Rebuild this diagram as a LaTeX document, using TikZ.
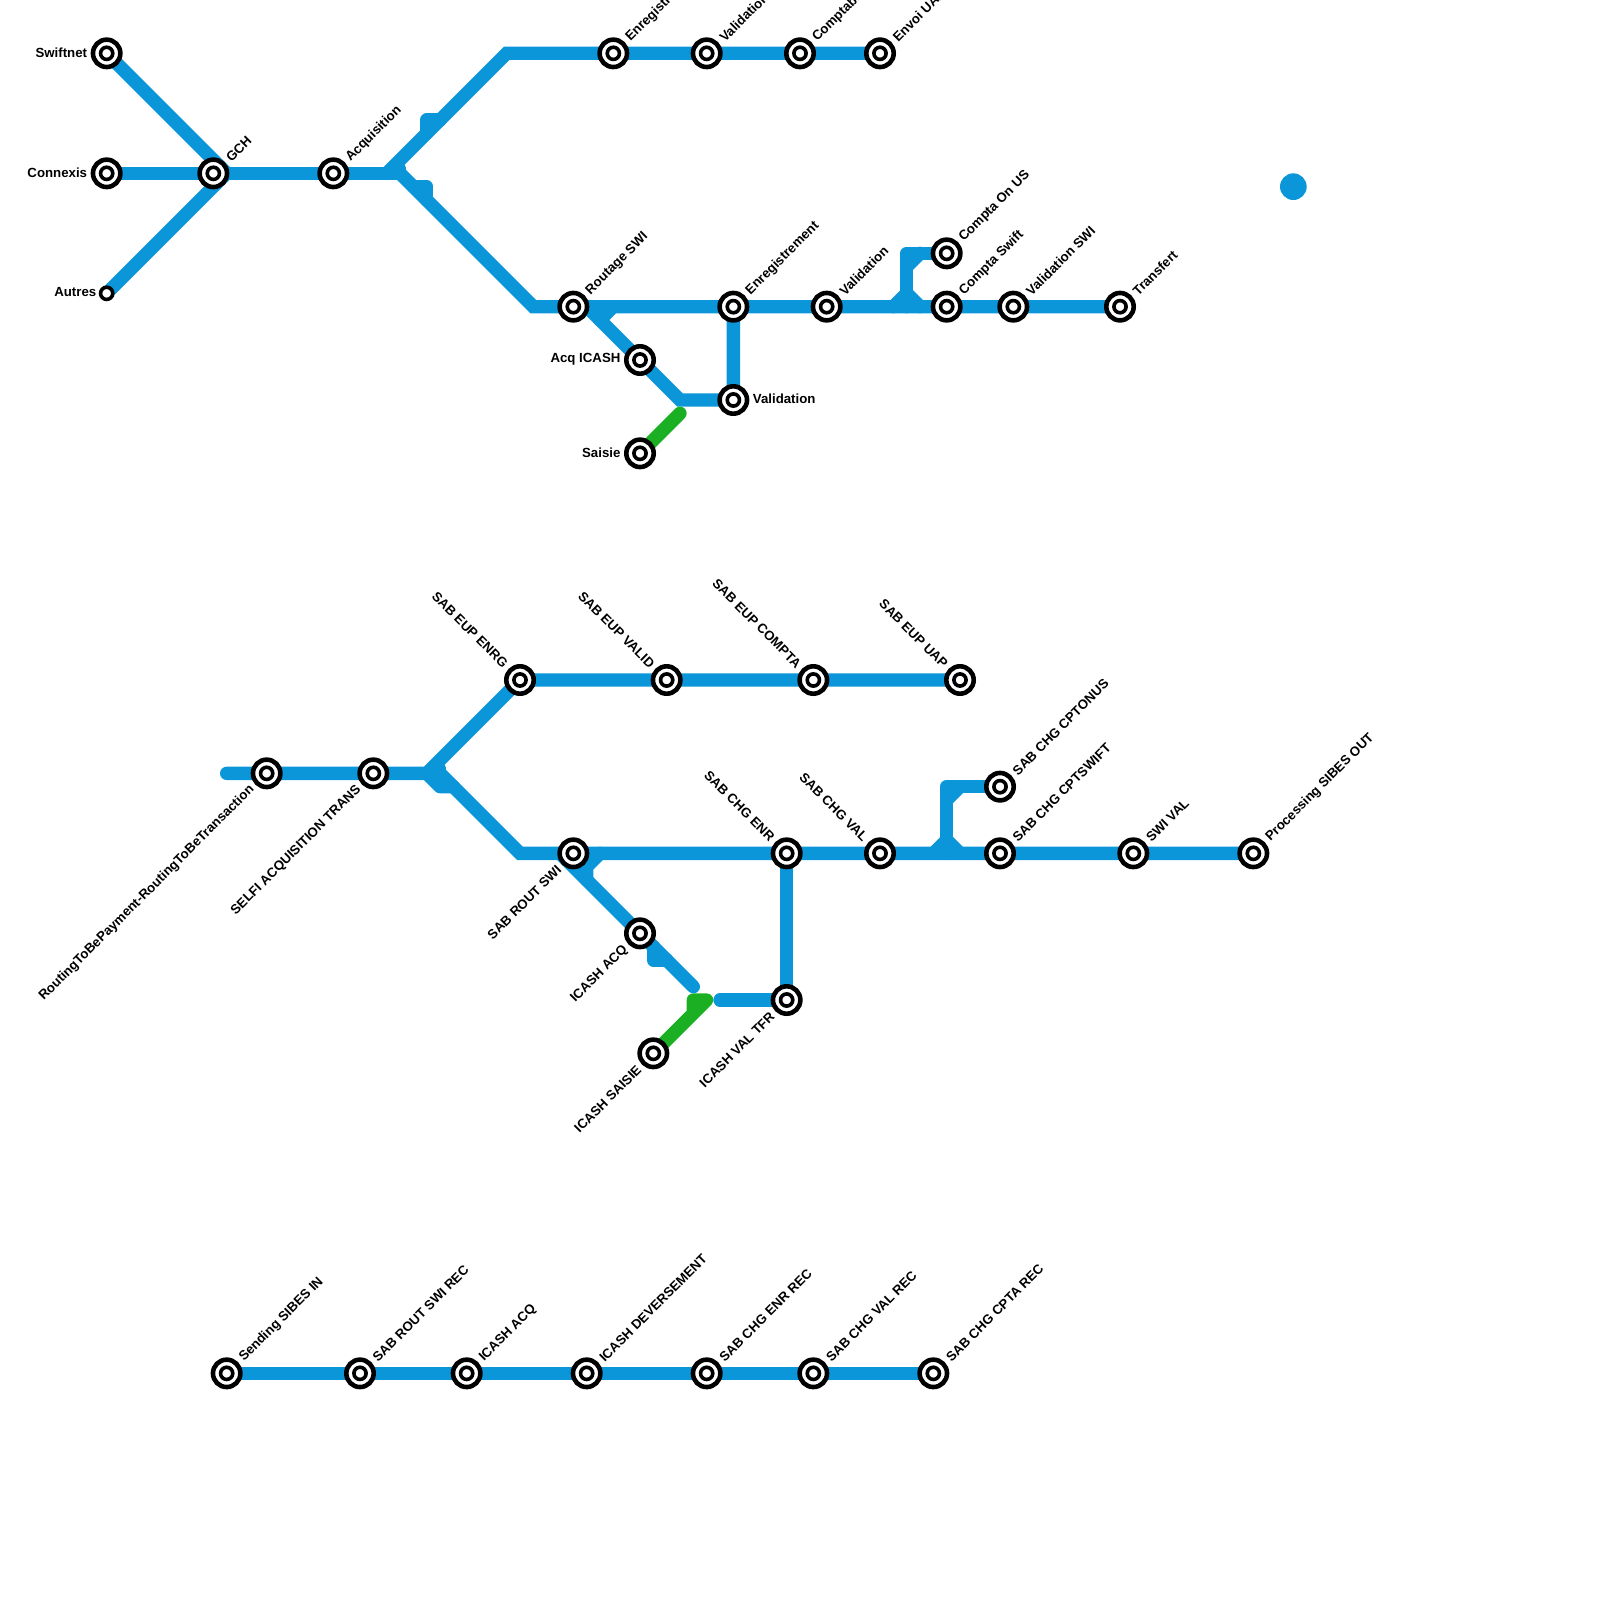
\documentclass[tikz,border=0pt]{standalone}
\usepackage{fontspec}
\setmainfont{Liberation Sans}
\definecolor{lineblue}{HTML}{0A96D9}
\definecolor{linegreen}{HTML}{1BB024}
\tikzset{
  base/.style={line width=6.667pt, line cap=round, miter limit=10},
  bl/.style={base, draw=lineblue},
  blr/.style={base, draw=lineblue, line join=round},
  blb/.style={base, draw=lineblue, line cap=round, line width=5pt},
  gr/.style={base, draw=linegreen, line join=round},
  stnmark/.style={circle, draw=black, fill=white, line width=2.3pt, minimum size=13.7pt, inner sep=0pt, outer sep=0pt},
  stnsmall/.style={circle, draw=black, fill=white, line width=1.8pt, minimum size=6.1pt, inner sep=0pt, outer sep=0pt},
  lbl/.style={font=\fontsize{6.62pt}{8pt}\selectfont\bfseries, inner sep=0pt, text=black},
  ur/.style={lbl, rotate=45, anchor=west, xshift=10pt, yshift=-0.4pt},
  ul/.style={lbl, rotate=-45, anchor=east, xshift=-10pt},
  dl/.style={lbl, rotate=45, anchor=east, xshift=-10pt},
  lf/.style={lbl, anchor=east, xshift=-9.6pt, yshift=0.5pt},
  rt/.style={lbl, anchor=west, xshift=9.6pt, yshift=0.5pt}
}
\begin{document}
\begin{tikzpicture}[x=6.667pt,y=-6.667pt]
\useasboundingbox (0,0) rectangle (120,120);
\clip (0,0) rectangle (120,120);
% group 1 lines
\coordinate (a1) at (29,13);
\coordinate (a2) at (38,4);
\coordinate (a3) at (30,13);
\coordinate (a4) at (40,23);
\coordinate (sw) at (8,4);
\coordinate (cx) at (8,13);
\coordinate (au) at (8,22);
\coordinate (gc) at (17,13);
\draw[bl] (sw) -- (gc);
\draw[bl] (au) -- (gc);
\draw[bl] (cx) -- (a3);
\draw[bl] (a1) -- (a2) -- (66,4);
\draw[bl] (a3) -- (a4) -- (84,23);
\draw[blb] (30.1,12.6) -- (30.1,13);
\draw[blr] (33,9) -- (32,9) -- (32,10);
\draw[blr] (31,14) -- (32,14) -- (32,15);
\draw[bl] (44,23) -- (48,27) -- (51,30) -- (55,30) -- (55,23);
\draw[bl] (46,23) -- (45,24);
\draw[gr] (48,34) -- (51,31);
\draw[blr] (71,19) -- (68,19) -- (68,23);
\draw[bl] (69,19) -- (68,20);
\draw[blr] (67,23) -- (68,22) -- (69,23);
\fill[lineblue] (97,14) circle (1);
% group 2 lines
\draw[bl] (17,58) -- (33,58) -- (39,64) -- (94,64);
\draw[bl] (32,58) -- (39,51) -- (72,51);
\draw[blb] (33.1,57.6) -- (33.1,58);
\draw[blr] (32,58) -- (33,59) -- (34,59);
\draw[bl] (42,64) -- (52,74);
\draw[blr] (45,64) -- (44,65) -- (44,66);
\draw[blr] (49,71) -- (49,72) -- (50,72);
\draw[gr] (49,79) -- (53,75) -- (52,75) -- (52,76);
\draw[blr] (54,75) -- (59,75) -- (59,64);
\draw[blr] (75,59) -- (71,59) -- (71,64);
\draw[bl] (72,59) -- (71,60);
\draw[blr] (70,64) -- (71,63) -- (72,64);
% group 3
\draw[bl] (17,103) -- (70,103);
% stations
\foreach \n/\x/\y in {s1/8/4,s2/8/13,s3/16/13,s4/25/13,s5/46/4,s6/53/4,s7/60/4,s8/66/4,
 s9/43/23,s10/55/23,s11/62/23,s12/71/23,s13/76/23,s14/84/23,s15/71/19,s16/48/27,s17/55/30,s18/48/34,
 t1/20/58,t2/28/58,t3/39/51,t4/50/51,t5/61/51,t6/72/51,t7/43/64,t8/59/64,t9/66/64,t10/75/64,t11/85/64,t12/94/64,
 t13/75/59,t14/48/70,t15/59/75,t16/49/79,
 u1/17/103,u2/27/103,u3/35/103,u4/44/103,u5/53/103,u6/61/103,u7/70/103}{
  \node[stnmark] (\n) at (\x,\y) {};
  \node[stnsmall] at (\x,\y) {};
}
\node[stnsmall] (s0) at (8,22) {};
% labels
\node[lf] at (s1) {Swiftnet};
\node[lf] at (s2) {Connexis};
\node[lbl, anchor=east, xshift=-5pt, yshift=0.5pt] at (s0) {Autres};
\node[ur] at (s3) {GCH};
\node[ur] at (s4) {Acquisition};
\node[ur] at (s5) {Enregistrement};
\node[ur] at (s6) {Validation};
\node[ur] at (s7) {Comptabilisation};
\node[ur] at (s8) {Envoi UAP};
\node[ur] at (s9) {Routage SWI};
\node[ur] at (s10) {Enregistrement};
\node[ur] at (s11) {Validation};
\node[ur] at (s12) {Compta Swift};
\node[ur] at (s13) {Validation SWI};
\node[ur] at (s14) {Transfert};
\node[ur] at (s15) {Compta On US};
\node[lf] at (s16) {Acq ICASH};
\node[rt] at (s17) {Validation};
\node[lf] at (s18) {Saisie};
\node[dl] at (t1) {RoutingToBePayment-RoutingToBeTransaction};
\node[dl] at (t2) {SELFI ACQUISITION TRANS};
\node[ul] at (t3) {SAB EUP ENRG};
\node[ul] at (t4) {SAB EUP VALID};
\node[ul] at (t5) {SAB EUP COMPTA};
\node[ul] at (t6) {SAB EUP UAP};
\node[dl] at (t7) {SAB ROUT SWI};
\node[ul] at (t8) {SAB CHG ENR};
\node[ul] at (t9) {SAB CHG VAL};
\node[ur] at (t10) {SAB CHG CPTSWIFT};
\node[ur] at (t11) {SWI VAL};
\node[ur] at (t12) {Processing SIBES OUT};
\node[ur] at (t13) {SAB CHG CPTONUS};
\node[dl] at (t14) {ICASH ACQ};
\node[dl] at (t15) {ICASH VAL TFR};
\node[dl] at (t16) {ICASH SAISIE};
\node[ur] at (u1) {Sending SIBES IN};
\node[ur] at (u2) {SAB ROUT SWI REC};
\node[ur] at (u3) {ICASH ACQ};
\node[ur] at (u4) {ICASH DEVERSEMENT};
\node[ur] at (u5) {SAB CHG ENR REC};
\node[ur] at (u6) {SAB CHG VAL REC};
\node[ur] at (u7) {SAB CHG CPTA REC};
\end{tikzpicture}
\end{document}
